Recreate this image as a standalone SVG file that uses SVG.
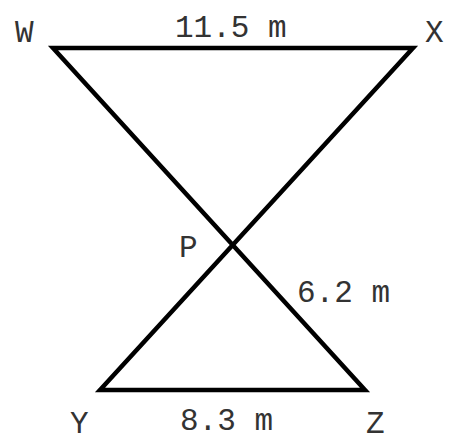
<svg xmlns="http://www.w3.org/2000/svg" width="466" height="444" viewBox="0 0 466 444">
<style>
.l{stroke:#000;stroke-width:4.5;fill:none;stroke-linecap:butt;stroke-linejoin:miter}
text{font-family:"Courier New","Nimbus Mono PS","FreeMono","Liberation Mono",monospace;font-size:31px;fill:#333}
</style>
<rect width="466" height="444" fill="#fff"/>
<g id="connectors">
<path class="l" d="M53,48 L413,48 L100,390 L365,390 Z"/>
</g>
<g id="W"><text x="15" y="42">W</text></g>
<g id="X"><text x="425" y="42">X</text></g>
<g id="P"><text x="179" y="257">P</text></g>
<g id="Y"><text x="70" y="433">Y</text></g>
<g id="Z"><text x="366" y="433">Z</text></g>
<g id="labels">
<text x="175" y="37">11.5 m</text>
<text x="297" y="302">6.2 m</text>
<text x="180" y="430">8.3 m</text>
</g>
</svg>
